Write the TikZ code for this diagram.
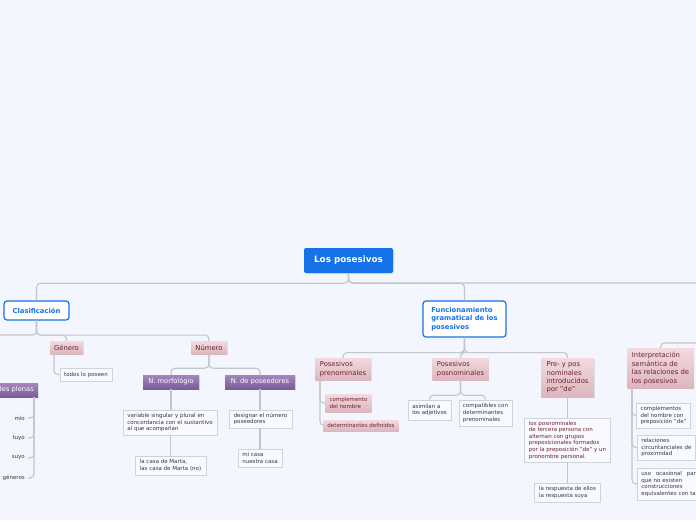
\documentclass[tikz,border=0pt]{standalone}
\usepackage{fontspec}
\setmainfont{DejaVu Sans}
\usetikzlibrary{shadows}
\definecolor{bgc}{RGB}{243,246,254}
\definecolor{rootblue}{RGB}{22,114,232}
\definecolor{pinktop}{RGB}{242,218,222}
\definecolor{pinkbot}{RGB}{220,182,188}
\definecolor{maroon}{RGB}{112,32,52}
\definecolor{purtop}{RGB}{164,134,188}
\definecolor{purbot}{RGB}{122,92,152}
\definecolor{leaffill}{RGB}{249,250,255}
\definecolor{leafborder}{RGB}{208,210,220}
\definecolor{leaftext}{RGB}{55,55,65}
\definecolor{linecol}{RGB}{196,198,206}
\tikzset{
  conn/.style={draw=linecol, line width=1.1pt, rounded corners=4pt},
  rootbox/.style={fill=rootblue, rounded corners=2pt, text=white, inner sep=0pt,
    font=\fontsize{8.8}{10}\selectfont\bfseries, drop shadow={opacity=0.2,shadow xshift=0.8pt,shadow yshift=-0.8pt}},
  topicbox/.style={fill=white, draw=rootblue, line width=1.2pt, rounded corners=3pt, text=rootblue,
    font=\fontsize{6.8}{8.6}\selectfont\bfseries, align=left, inner xsep=6pt, inner ysep=0pt},
  pinkbox/.style={top color=pinktop, bottom color=pinkbot, text=maroon, align=left,
    font=\fontsize{6.8}{8.4}\selectfont, inner xsep=4.5pt, inner ysep=0pt,
    drop shadow={opacity=0.18,shadow xshift=0.8pt,shadow yshift=-0.8pt}},
  pinksmall/.style={pinkbox, font=\fontsize{5.5}{7}\selectfont, inner xsep=4pt},
  purbox/.style={top color=purtop, bottom color=purbot, text=white, align=center,
    font=\fontsize{6.7}{8}\selectfont, inner xsep=4pt, inner ysep=0pt,
    drop shadow={opacity=0.18,shadow xshift=0.8pt,shadow yshift=-0.8pt}},
  leaf/.style={fill=leaffill, draw=leafborder, line width=0.8pt, text=leaftext, align=left,
    font=\fontsize{5.5}{6.7}\selectfont, inner xsep=4pt, inner ysep=0pt},
  plain/.style={text=leaftext, font=\fontsize{5.5}{6.7}\selectfont, inner sep=1pt}
}
\begin{document}
\begin{tikzpicture}[x=1pt,y=-1pt]
\useasboundingbox (0,0) rectangle (696,520);
\fill[bgc] (0,0) rectangle (696,520);
\begin{scope}
\clip (0,0) rectangle (696,520);
% root and topics
\node[rootbox, minimum width=89pt, minimum height=25pt] (root) at (348.5,260.5) {Los posesivos};
\node[topicbox, minimum width=65pt, minimum height=19pt, align=center, inner xsep=0pt] (clas) at (36.5,310.5) {Clasificación};
\node[topicbox, minimum width=83pt, minimum height=36pt] (func) at (464.5,319) {Funcionamiento\\gramatical de los\\posesivos};
\coordinate (rootR) at (705,283);
\coordinate (clasL) at (-10,335);
\coordinate (interpR) at (705,343);
% Clasificacion branch
\node[pinkbox, minimum width=33pt, minimum height=13pt, align=center, inner xsep=0pt] (genero) at (66.5,347.5) {Género};
\node[pinkbox, minimum width=36pt, minimum height=13pt, align=center, inner xsep=0pt] (numero) at (209,347.5) {Número};
\node[leaf, minimum width=52pt, minimum height=13pt, align=center, inner xsep=0pt] (todos) at (86,374.5) {todos lo poseen};
\node[purbox, minimum width=56pt, minimum height=14pt, inner xsep=0pt] (nmorf) at (171,382) {N. morfológio};
\node[purbox, minimum width=70pt, minimum height=14pt, inner xsep=0pt] (nposs) at (260,382) {N. de poseedores};
\node[leaf, minimum width=94pt, minimum height=25pt] (variable) at (170,422.5) {variable singular y plural en\\concordancia con el sustantivo\\al que acompañan};
\node[leaf, minimum width=71pt, minimum height=19pt] (lacasa) at (170.5,465.5) {la casa de Marta,\\las casa de Marta (no)};
\node[leaf, minimum width=63pt, minimum height=18pt] (designar) at (260.5,419) {designar el número\\poseedores};
\node[leaf, minimum width=44pt, minimum height=18pt] (micasa) at (260,458) {mi casa\\nuestra casa};
\node[purbox, minimum height=14pt, anchor=east] (plenas) at (38,390) {des plenas};
\node[plain, anchor=east] (mio) at (26,418) {mío};
\node[plain, anchor=east] (tuyo) at (26,438) {tuyo};
\node[plain, anchor=east] (suyo) at (26,458) {suyo};
\node[plain, anchor=east] (generos) at (26,478) {géneros};
% Funcionamiento branch
\node[pinkbox, minimum width=56pt, minimum height=22pt] (prenom) at (343,369) {Posesivos\\prenominales};
\node[pinksmall, minimum width=45pt, minimum height=18pt] (compl) at (348.5,403) {complemento\\del nombre};
\node[pinksmall, minimum width=70pt, minimum height=11pt] (detdef) at (361,425.5) {determinantes definidos};
\node[pinkbox, minimum width=55pt, minimum height=22pt] (posnom) at (460.5,369) {Posesivos\\posnominales};
\node[leaf, minimum width=43pt, minimum height=20pt] (asimilan) at (429.5,410) {asimilan a\\los adjetivos};
\node[leaf, minimum width=53pt, minimum height=26pt] (compat) at (485.5,413) {compatibles con\\determinantes\\prenominales};
\node[pinkbox, minimum width=53pt, minimum height=39pt] (prepos) at (567.5,377.5) {Pre- y pos\\nominales\\introducidos\\por "de"};
\node[leaf, minimum width=86pt, minimum height=44pt, text=maroon, font=\fontsize{5.5}{6.6}\selectfont] (losposn) at (567.5,440) {los posnominales\\de tercera persona con\\alternan con grupos\\preposicionales formados\\por la preposición "de" y un\\pronombre personal.};
\node[leaf, minimum width=66pt, minimum height=19pt] (respuesta) at (567.5,492.5) {la respuesta de ellos\\la respuesta suya};
% Interpretacion branch
\node[pinkbox, minimum width=66pt, minimum height=40pt, font=\fontsize{6.8}{8.5}\selectfont] (interp) at (660.5,368.5) {Interpretación\\semántica de\\las relaciones de\\los posesivos};
\node[leaf, minimum width=53pt, minimum height=25pt] (complem) at (663.5,415.5) {complementos\\del nombre con\\preposición "de"};
\node[leaf, minimum height=25pt, anchor=west] (relac) at (637,447.5) {relaciones\\circuntanciales de\\proximidad};
\node[leaf, text width=58pt, minimum height=32pt, anchor=west] (uso) at (637,484) {uso\hfill ocasional\hfill para\\que no existen\\construcciones\\equivalentes con ta};
% connectors
\draw[conn] (root.south) -- ++(0,10) -| (clas.north);
\draw[conn] (root.south) |- (rootR);
\draw[conn] (root.south) -- ++(0,10) -| (func.north);
\draw[conn] (clas.south) -- ++(0,14.5) -| (genero.north);
\draw[conn] (clas.south) -- ++(0,14.5) -| (numero.north);
\draw[conn] (clas.south) |- (clasL);
\draw[conn] ([xshift=-12.5pt]genero.south) |- (todos.west);
\draw[conn] (numero.south) -- ++(0,14) -| (nmorf.north);
\draw[conn] (numero.south) -- ++(0,14) -| (nposs.north);
\draw[conn] (nmorf.south) -- (nmorf.south |- variable.north);
\draw[conn] (variable.south -| lacasa.north) -- (lacasa.north);
\draw[conn] (nposs.south) -- (nposs.south |- designar.north);
\draw[conn] (designar.south -| micasa.north) -- (micasa.north);
\draw[conn] ([xshift=-4pt]plenas.south east) |- ([xshift=2pt]mio.east);
\draw[conn] ([xshift=-4pt]plenas.south east) |- ([xshift=2pt]tuyo.east);
\draw[conn] ([xshift=-4pt]plenas.south east) |- ([xshift=2pt]suyo.east);
\draw[conn] ([xshift=-4pt]plenas.south east) |- ([xshift=2pt]generos.east);
\draw[conn] (func.south) -- ++(0,15) -| (prenom.north);
\draw[conn] (func.south) -- ++(0,15) -| (posnom.north);
\draw[conn] (func.south) -- ++(0,15) -| (prepos.north);
\draw[conn] ([xshift=-23pt]prenom.south) |- (compl.west);
\draw[conn] ([xshift=-23pt]prenom.south) |- (detdef.west);
\draw[conn] (posnom.south) -- ++(0,15) -| (asimilan.north);
\draw[conn] (posnom.south) -- ++(0,15) -| (compat.north);
\draw[conn] (prepos.south) -- (losposn.north);
\draw[conn] (losposn.south) -- (respuesta.north);
\draw[conn] (interp.north) |- (interpR);
\draw[conn] ([xshift=-28.5pt]interp.south) |- (complem.west);
\draw[conn] ([xshift=-28.5pt]interp.south) |- (relac.west);
\draw[conn] ([xshift=-28.5pt]interp.south) |- (uso.west);
\end{scope}
\end{tikzpicture}
\end{document}
